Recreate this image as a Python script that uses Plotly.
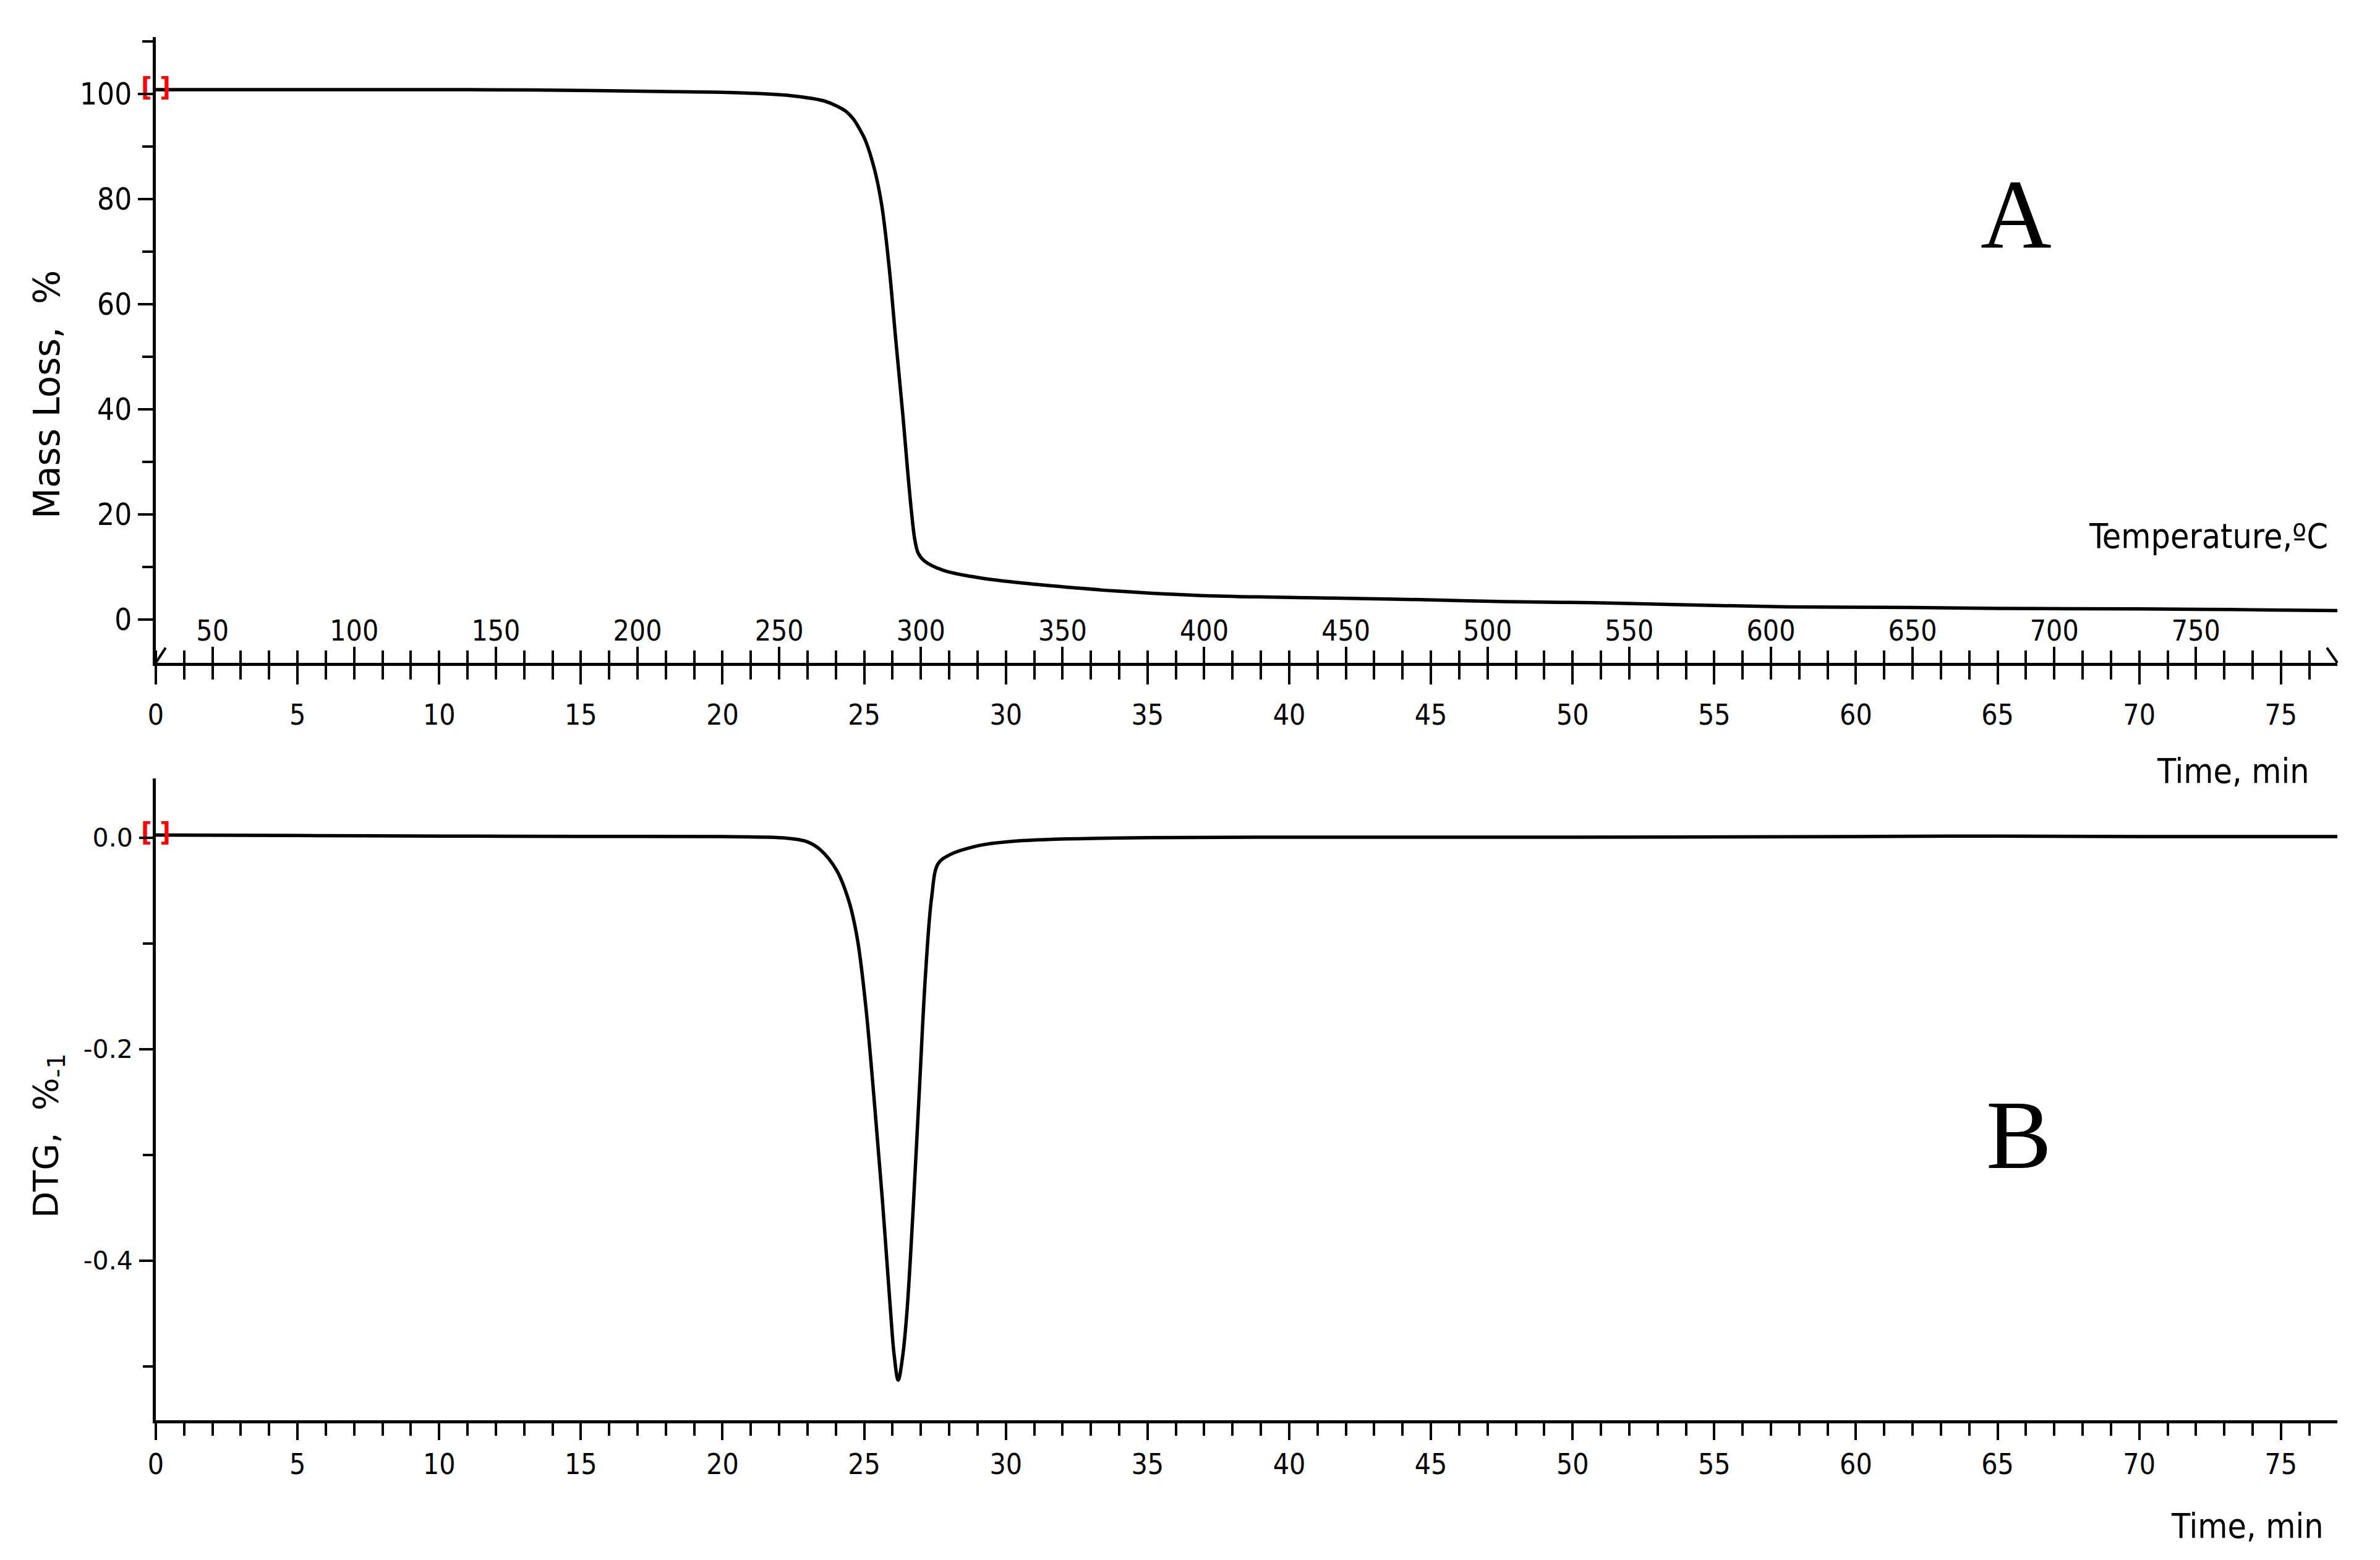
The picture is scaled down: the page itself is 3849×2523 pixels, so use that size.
import plotly.graph_objects as go

# ---------------- data ----------------
time_mass = [0, 5, 10, 13.3, 17.9, 20.69, 22.36, 23.2, 23.62, 24.03, 24.35, 24.62, 24.86, 25.03,
             25.37, 25.62, 25.87, 26.12, 26.37, 26.54, 26.69, 26.79, 26.91, 27.12, 27.79, 29.04,
             30.71, 32.38, 33.78, 36.9, 41.5, 44.6, 47.6, 50.7, 53.8, 57.6, 62.0, 65.0, 70.0,
             73.2, 74.5, 77.0]
mass = [100.8, 100.8, 100.8, 100.75, 100.45, 100.2, 99.7, 99.1, 98.6, 97.7, 96.7, 95.2, 93.1, 91.3,
        85.5, 78.8, 67.6, 52.9, 38.6, 27.9, 19.4, 15.1, 12.6, 11.2, 9.4, 8.0,
        6.9, 6.1, 5.5, 4.6, 4.13, 3.82, 3.43, 3.23, 2.84, 2.44, 2.33, 2.15, 2.05,
        1.95, 1.85, 1.75]

time_dtg = [0, 5, 10, 15, 20, 21.5, 22.45, 23.0, 23.45, 24.03, 24.46, 24.76, 25.05, 25.34, 25.64,
            25.93, 26.06, 26.20, 26.36, 26.51, 26.73, 26.95, 27.16, 27.38, 27.6, 27.96, 29.06, 30.16,
            31.6, 35, 40, 50, 60, 65, 70, 77.0]
dtg = [0.0025, 0.002, 0.0015, 0.0012, 0.001, 0.0005, -0.001, -0.004, -0.0114, -0.031, -0.060,
       -0.096, -0.158, -0.244, -0.342, -0.448, -0.49, -0.513, -0.49, -0.448, -0.350, -0.237,
       -0.131, -0.0565, -0.025, -0.017, -0.0074, -0.0036, -0.0016, 0.0, 0.0005, 0.0005, 0.001,
       0.0015, 0.001, 0.001]

time_range = [0, 76.99]
temp_start = 30.0          # deg C at t = 0
heating_rate = 10.0        # deg C per min
mass_range = [-8.2, 110.8]
dtg_range = [-0.551, 0.056]
dtg_tickvals = [0.0, -0.2, -0.4]
dtg_ticktext = ["0.0", "-0.2", "-0.4"]

temp_mass = [temp_start + heating_rate * t for t in time_mass]
temp_range = [temp_start + heating_rate * t for t in time_range]

# ---------------- layout geometry (page pixel coordinates) ----------------
OFF = 8                     # default body margin of the html page
WIN_W, WIN_H = 3849, 2523
W, H = WIN_W - 2 * OFF, WIN_H - 2 * OFF
PX0, PX1 = 252, 3780        # plot area left / right in page pixels
PY0, PY1 = 60, 2297         # plot area top / bottom in page pixels
L, T = PX0 - OFF, PY0 - OFF
R = W + OFF - PX1
B = H + OFF - PY1
PW, PH = PX1 - PX0, PY1 - PY0


def px(xp):
    return (xp - PX0) / PW


def py(yp):
    return (PY1 - yp) / PH


NARROW = "Liberation Sans Narrow, DejaVu Sans Condensed, Arial Narrow, sans-serif"
WIDE = "DejaVu Sans, Verdana, sans-serif"
SERIF = "Liberation Serif, Times New Roman, serif"
LW = 5
TW = 4

fig = go.Figure()

fig.add_trace(go.Scatter(x=time_mass, y=mass, mode="lines", xaxis="x", yaxis="y",
                         line=dict(color="black", width=5.5, shape="spline", smoothing=1.0),
                         showlegend=False, hoverinfo="skip"))
# same mass data against the temperature scale (transparent, carries the temperature axis)
fig.add_trace(go.Scatter(x=temp_mass, y=mass, mode="lines", xaxis="x3", yaxis="y",
                         line=dict(color="rgba(0,0,0,0)", width=1),
                         showlegend=False, hoverinfo="skip"))
fig.add_trace(go.Scatter(x=time_dtg, y=dtg, mode="lines", xaxis="x2", yaxis="y2",
                         line=dict(color="black", width=5.5, shape="spline", smoothing=1.0),
                         showlegend=False, hoverinfo="skip"))
# red start markers
fig.add_trace(go.Scatter(x=[time_mass[0]], y=[mass[0]], mode="text", text=["<b>[ ]</b>"],
                         xaxis="x", yaxis="y", textfont=dict(color="#ff0000", size=42, family=NARROW),
                         cliponaxis=False, showlegend=False, hoverinfo="skip"))
fig.add_trace(go.Scatter(x=[time_dtg[0]], y=[dtg[0]], mode="text", text=["<b>[ ]</b>"],
                         xaxis="x2", yaxis="y2", textfont=dict(color="#ff0000", size=42, family=NARROW),
                         cliponaxis=False, showlegend=False, hoverinfo="skip"))

split_top = py(1072)
split_bot = py(1259)

common_x = dict(showgrid=False, zeroline=False, showline=True, linecolor="black", linewidth=LW,
                tickcolor="black", tickwidth=TW, tickmode="linear", tick0=0, dtick=5,
                range=time_range)

fig.update_layout(
    width=W, height=H, autosize=False,
    margin=dict(l=L, r=R, t=T, b=B, pad=0),
    plot_bgcolor="white", paper_bgcolor="white",
    xaxis=dict(common_x, domain=[0, 1], anchor="y", ticks="outside", ticklen=30,
               tickfont=dict(family=NARROW, size=46, color="black"), ticklabelstandoff=10,
               minor=dict(ticks="outside", ticklen=22, tickwidth=TW, tickcolor="black",
                          dtick=1, tick0=0)),
    xaxis3=dict(overlaying="x", anchor="free", position=split_top, side="top",
                showgrid=False, zeroline=False, showline=False, range=temp_range,
                tickmode="linear", tick0=50, dtick=50, ticks="outside", ticklen=26,
                tickwidth=TW, tickcolor="black",
                tickfont=dict(family=NARROW, size=46, color="black"), ticklabelstandoff=-8,
                minor=dict(ticks="outside", ticklen=20, tickwidth=TW, tickcolor="black",
                           dtick=10, tick0=0)),
    yaxis=dict(domain=[split_top, 1], anchor="x", range=mass_range, showgrid=False,
               zeroline=False, showline=True, linecolor="black", linewidth=LW,
               tickmode="linear", tick0=0, dtick=20, ticks="outside", ticklen=24,
               tickwidth=TW, tickcolor="black",
               tickfont=dict(family=NARROW, size=49, color="black"), ticklabelstandoff=0,
               minor=dict(ticks="outside", ticklen=17, tickwidth=TW, tickcolor="black",
                          dtick=10, tick0=0)),
    xaxis2=dict(common_x, domain=[0, 1], anchor="y2", ticks="outside", ticklen=27,
                tickfont=dict(family=NARROW, size=46, color="black"), ticklabelstandoff=0,
                minor=dict(ticks="outside", ticklen=20, tickwidth=TW, tickcolor="black",
                           dtick=1, tick0=0)),
    yaxis2=dict(domain=[0, split_bot], anchor="x2", range=dtg_range, showgrid=False,
                zeroline=False, showline=True, linecolor="black", linewidth=LW,
                tickmode="array", tickvals=dtg_tickvals, ticktext=dtg_ticktext,
                ticks="outside", ticklen=22, tickwidth=TW, tickcolor="black",
                tickfont=dict(family=WIDE, size=41, color="black"), ticklabelstandoff=2,
                minor=dict(ticks="outside", ticklen=16, tickwidth=TW, tickcolor="black",
                           tickmode="linear", dtick=0.1, tick0=0)),
)

ann = [
    dict(text="Mass Loss,  %", x=px(76), y=py(638), textangle=-90,
         font=dict(family=WIDE, size=58, color="black")),
    dict(text="DTG,  %<sub>-1</sub>", x=px(77), y=py(1837), textangle=-90,
         font=dict(family=WIDE, size=56, color="black")),
    dict(text="Temperature,ºC", x=px(3767), y=py(867), xanchor="right",
         font=dict(family=NARROW, size=55, color="black")),
    dict(text="Time, min", x=px(3737), y=py(1247), xanchor="right",
         font=dict(family=NARROW, size=55, color="black")),
    dict(text="Time, min", x=px(3760), y=py(2468), xanchor="right",
         font=dict(family=NARROW, size=55, color="black")),
    dict(text="A", x=px(3260), y=py(346), font=dict(family=SERIF, size=159, color="black")),
    dict(text="B", x=px(3265), y=py(1835), font=dict(family=SERIF, size=159, color="black")),
]
for a in ann:
    a.setdefault("xanchor", "center")
    a.update(xref="paper", yref="paper", yanchor="middle", showarrow=False)
    fig.add_annotation(**a)

# small end marks on the combined time/temperature axis
fig.add_shape(type="line", xref="x domain", yref="y domain", x0=0, y0=0, x1=0.0045, y1=0.024,
              line=dict(color="black", width=4))
fig.add_shape(type="line", xref="x domain", yref="y domain", x0=0.9952, y0=0.024, x1=1, y1=0,
              line=dict(color="black", width=4))

fig.write_html("out.html")
